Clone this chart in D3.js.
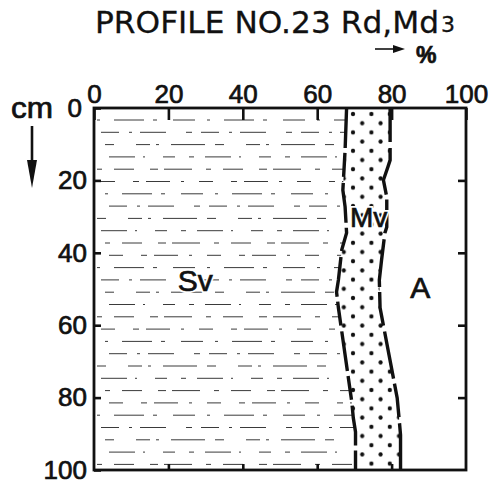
<!DOCTYPE html>
<html>
<head>
<meta charset="utf-8">
<script src="https://cdn.jsdelivr.net/npm/d3@7"></script>
<style>
  body { margin: 0; background: #fff; }
  svg { display: block; }
  text { font-family: "Liberation Sans", Arial, sans-serif; fill: #111; stroke: #111; stroke-width: 0.7px; }
</style>
</head>
<body>
<div id="chart"></div>
<script>
// profile data (depth in cm, share in %)
const xTicks = [0, 20, 40, 60, 80, 100];
const yTicks = [0, 20, 40, 60, 80, 100];

// Sv / Mv boundary
const svMvDepth = [0, 11.6, 22.7, 27.3, 34.5, 39.2, 47.5, 50.8, 55.2, 81.2, 85.6, 89.5, 100];
const svMvPct = [67.9, 67.5, 66.9, 67.5, 67.9, 66.6, 65.7, 65.2, 65.7, 69.3, 69.7, 70.3, 70.3];

// Mv / A boundary
const mvADepth = [0, 14.4, 16.3, 19.9, 24.6, 32.9, 34.5, 42, 47.5, 55.2, 80.1, 85.6, 90.3, 100];
const mvAPct = [79.6, 79.6, 79, 77.8, 78.7, 78.7, 78.2, 77.3, 76.7, 76.9, 81.5, 82, 82.4, 82.4];

const width = 491;
const height = 484;

const x = d3.scaleLinear().domain([0, 100]).range([94, 466]);
const y = d3.scaleLinear().domain([0, 100]).range([108, 470]);

const svg = d3.select("#chart").append("svg")
  .attr("width", width)
  .attr("height", height);

const defs = svg.append("defs");

// dot fill for Mv
const pat = defs.append("pattern")
  .attr("id", "dots")
  .attr("patternUnits", "userSpaceOnUse")
  .attr("x", 353).attr("y", 114)
  .attr("width", 18.4).attr("height", 18.4);
[[0, 0], [18.4, 0], [0, 18.4], [18.4, 18.4], [9.2, 9.2]].forEach((p) => {
  pat.append("circle").attr("cx", p[0]).attr("cy", p[1]).attr("r", 2.1).attr("fill", "#111");
});

const svMv = svMvDepth.map((d, i) => [svMvPct[i], d]);
const mvA = mvADepth.map((d, i) => [mvAPct[i], d]);

// Sv clip region
const svArea = d3.area()
  .y((d) => y(d[1]))
  .x0(x(0))
  .x1((d) => x(d[0]));

defs.append("clipPath").attr("id", "svClip")
  .append("path").attr("d", svArea(svMv));

// Mv region between boundaries
const mvLeft = d3.scaleLinear().domain(svMvDepth).range(svMvPct);
const mvRight = d3.scaleLinear().domain(mvADepth).range(mvAPct);
const mvDepths = Array.from(new Set([...svMvDepth, ...mvADepth])).sort((a, b) => a - b);

svg.append("path")
  .attr("d", d3.area()
    .y((d) => y(d))
    .x0((d) => x(mvLeft(d)))
    .x1((d) => x(mvRight(d)))(mvDepths))
  .attr("fill", "url(#dots)");

// Sv hatching, sparse broken dashes
const hatchDash = [
  "3,14,30,9,4,16,22,12",
  "18,10,3,8,26,20,6,9",
  "9,22,14,6,3,12,34,10",
  "26,8,2,18,12,14,5,11",
  "5,12,20,16,8,6,28,14",
  "14,18,6,7,24,11,3,15",
];
const hatch = svg.append("g").attr("clip-path", "url(#svClip)");
d3.range(29).forEach((i) => {
  const yy = 120 + i * 12.3;
  hatch.append("line")
    .attr("x1", x(0) + 3 + (i % 4) * 4).attr("x2", x(75))
    .attr("y1", yy).attr("y2", yy)
    .attr("stroke", "#3a3a3a")
    .attr("stroke-width", 1)
    .attr("stroke-dasharray", hatchDash[i % hatchDash.length]);
});

// boundaries
const bLine = d3.line().x((d) => x(d[0])).y((d) => y(d[1]));
[svMv, mvA].forEach((pts, k) => {
  svg.append("path")
    .attr("d", bLine(pts))
    .attr("fill", "none")
    .attr("stroke", "#111")
    .attr("stroke-width", 3.4)
    .attr("stroke-dasharray", k === 0 ? "40,5,24,6" : "34,6,48,5");
});

// frame
svg.append("rect")
  .attr("x", x(0)).attr("y", y(0))
  .attr("width", x(100) - x(0)).attr("height", y(100) - y(0))
  .attr("fill", "none")
  .attr("stroke", "#111")
  .attr("stroke-width", 2.8);

// axes
const topAxis = d3.axisTop(x).tickValues(xTicks).tickSize(-12).tickPadding(5);
const leftAxis = d3.axisLeft(y).tickValues(yTicks).tickSize(-7).tickPadding(7);
const rightAxis = d3.axisRight(y).tickValues(yTicks.slice(1, -1)).tickSize(-8).tickFormat("");
const bottomAxis = d3.axisBottom(x).tickValues(xTicks.slice(1, -1)).tickSize(-6).tickFormat("");

function styleAxis(g) {
  g.select(".domain").remove();
  g.selectAll(".tick line").attr("stroke", "#111").attr("stroke-width", 2.6);
  g.selectAll(".tick text")
    .attr("fill", "#111")
    .style("font-size", "26px")
    .style("font-family", "'Liberation Sans', Arial, sans-serif");
}

svg.append("g").attr("transform", `translate(0,${y(0)})`).call(topAxis).call(styleAxis);
svg.append("g").attr("transform", `translate(${x(0)},0)`).call(leftAxis).call(styleAxis)
  .selectAll(".tick text").filter((d) => d === 0).attr("dx", -5);
svg.append("g").attr("transform", `translate(${x(100)},0)`).call(rightAxis).call(styleAxis);
svg.append("g").attr("transform", `translate(0,${y(100)})`).call(bottomAxis).call(styleAxis);

// unit "cm" and depth arrow
svg.append("text")
  .attr("x", 11).attr("y", 118)
  .style("font-size", "29px")
  .attr("textLength", 42)
  .attr("lengthAdjust", "spacingAndGlyphs")
  .text("cm");

svg.append("line")
  .attr("x1", 32).attr("x2", 32)
  .attr("y1", 126).attr("y2", 172)
  .attr("stroke", "#111").attr("stroke-width", 2.6);
svg.append("path")
  .attr("d", "M27,160 L37,160 L32,188 Z")
  .attr("fill", "#111");

// title
svg.append("text")
  .attr("x", 95).attr("y", 33)
  .style("font-family", "'DejaVu Sans', sans-serif")
  .style("font-size", "31px")
  .style("stroke-width", "0.3px")
  .attr("textLength", 344)
  .attr("lengthAdjust", "spacingAndGlyphs")
  .text("PROFILE  NO.23  Rd,Md");
svg.append("text")
  .attr("x", 441).attr("y", 32)
  .style("font-family", "'DejaVu Sans', sans-serif")
  .style("font-size", "22px")
  .style("stroke-width", "0.3px")
  .text("3");

// percent arrow
svg.append("line")
  .attr("x1", 375).attr("x2", 397)
  .attr("y1", 49).attr("y2", 49)
  .attr("stroke", "#111").attr("stroke-width", 1.6);
svg.append("path")
  .attr("d", "M393,45 L405,49 L393,53 Z")
  .attr("fill", "#111");
svg.append("text")
  .attr("x", 416).attr("y", 63)
  .style("font-size", "23px")
  .style("font-weight", "bold")
  .text("%");

// zone labels
const labels = [
  { t: "Sv", px: 22.5, d: 50.5, size: 30 },
  { t: "Mv", px: 68.8, d: 33, size: 28 },
  { t: "A", px: 85, d: 52.5, size: 30 },
];
labels.forEach((l) => {
  // white halo so the dots do not run through the letters
  svg.append("text")
    .attr("x", x(l.px)).attr("y", y(l.d))
    .style("font-size", l.size + "px")
    .style("fill", "#fff").style("stroke", "#fff").style("stroke-width", "4px")
    .text(l.t);
  svg.append("text")
    .attr("x", x(l.px)).attr("y", y(l.d))
    .style("font-size", l.size + "px")
    .text(l.t);
});
</script>
</body>
</html>
